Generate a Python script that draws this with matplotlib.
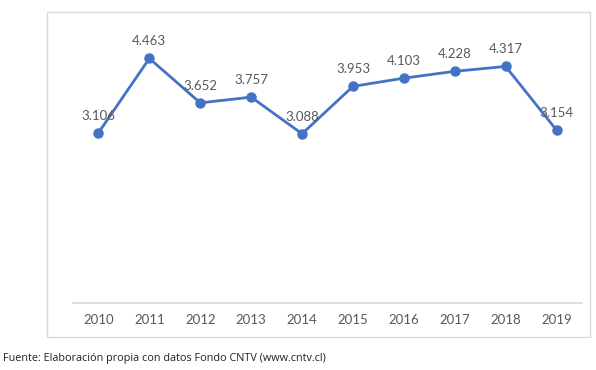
import matplotlib
matplotlib.use("Agg")
import matplotlib.pyplot as plt
from matplotlib.patches import Rectangle

years = ["2010", "2011", "2012", "2013", "2014", "2015", "2016", "2017", "2018", "2019"]
values = [3.106, 4.463, 3.652, 3.757, 3.088, 3.953, 4.103, 4.228, 4.317, 3.154]
labels = ["3.106", "4.463", "3.652", "3.757", "3.088", "3.953", "4.103", "4.228", "4.317", "3.154"]
caption = "Fuente: Elaboración propia con datos Fondo CNTV (www.cntv.cl)"

W, H = 596, 370
fig = plt.figure(figsize=(W / 100, H / 100), dpi=100)
plt.rcParams['font.family'] = ['Lato', 'DejaVu Sans']

# outer chart border
fig.patches.append(Rectangle((47 / W, 1 - 337 / H), (590 - 47) / W, (337 - 12) / H,
                             transform=fig.transFigure, fill=False,
                             edgecolor="#d9d9d9", linewidth=1.0))

ax = fig.add_axes([73 / W, 1 - 303 / H, (582 - 73) / W, (303 - 29) / H])
x = list(range(len(years)))
ax.plot(x, values, color="#4472c4", linewidth=2, marker="o", markersize=6.5)
for xi, v, lab in zip(x, values, labels):
    ax.annotate(lab, (xi, v), xytext=(0, 8), textcoords="offset points",
                ha="center", va="bottom", fontsize=9.5, color="#595959")

ax.set_xlim(-0.5, len(years) - 0.5)
ax.set_ylim(0, 5)
ax.set_xticks(x)
ax.set_xticklabels(years, fontsize=9.5, color="#595959")
ax.set_yticks([])
ax.tick_params(axis="x", length=0, pad=8)
for s in ["top", "left", "right"]:
    ax.spines[s].set_visible(False)
ax.spines["bottom"].set_color("#d9d9d9")
ax.spines["bottom"].set_linewidth(1.2)
ax.patch.set_alpha(0)

fig.text(3 / W, 1 - 358 / H, caption, fontsize=7.8, color="#222222",
         family=["Open Sans", "DejaVu Sans"], va="center", ha="left")

fig.savefig("out.png", dpi=100)
